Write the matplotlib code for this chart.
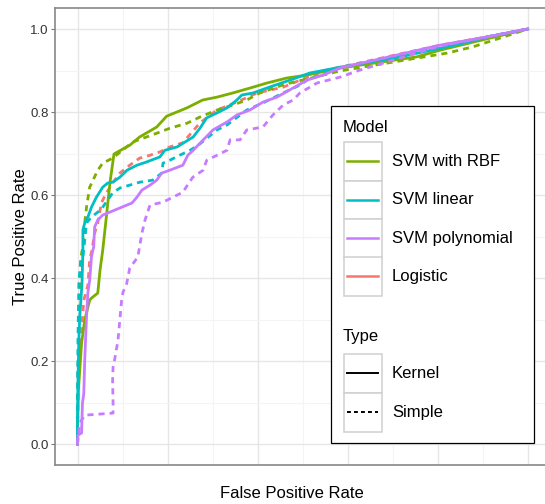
import matplotlib
matplotlib.use("Agg")
import matplotlib.pyplot as plt
from matplotlib.patches import Rectangle

plt.rcParams['font.family'] = ['Liberation Sans', 'DejaVu Sans']

# ROC curves (FPR, TPR)
rbf_kernel_fpr = [0, 0, 0.002, 0.009, 0.016, 0.027, 0.031, 0.045, 0.050, 0.056, 0.064, 0.072, 0.081,
                  0.109, 0.116, 0.138, 0.176, 0.198, 0.243, 0.278, 0.310, 0.345, 0.390, 0.421, 0.465,
                  0.510, 0.583, 0.754, 0.805, 1.0]
rbf_kernel_tpr = [0, 0.027, 0.130, 0.243, 0.299, 0.347, 0.352, 0.364, 0.419, 0.467, 0.547, 0.629, 0.699,
                  0.716, 0.720, 0.740, 0.764, 0.790, 0.810, 0.829, 0.836, 0.846, 0.860, 0.870, 0.882,
                  0.889, 0.906, 0.933, 0.949, 1.0]

rbf_simple_fpr = [0, 0.001, 0.003, 0.005, 0.009, 0.012, 0.016, 0.020, 0.027, 0.045, 0.056, 0.078, 0.094,
                  0.123, 0.176, 0.205, 0.243, 0.272, 0.310, 0.345, 0.376, 0.405, 0.450, 0.479, 0.512,
                  0.583, 0.754, 0.821, 0.878, 0.938, 1.0]
rbf_simple_tpr = [0, 0.106, 0.275, 0.395, 0.460, 0.475, 0.533, 0.571, 0.619, 0.660, 0.677, 0.689, 0.703,
                  0.728, 0.749, 0.761, 0.773, 0.788, 0.805, 0.817, 0.829, 0.846, 0.863, 0.872, 0.880,
                  0.899, 0.930, 0.942, 0.957, 0.978, 1.0]

lin_kernel_fpr = [0, 0, 0.001, 0.003, 0.005, 0.010, 0.012, 0.012, 0.016, 0.023, 0.031, 0.042, 0.056,
                  0.067, 0.078, 0.094, 0.110, 0.132, 0.154, 0.183, 0.194, 0.221, 0.257, 0.272, 0.287,
                  0.310, 0.332, 0.354, 0.365, 0.390, 0.421, 0.472, 0.516, 0.583, 0.717, 0.850, 0.910, 1.0]
lin_kernel_tpr = [0, 0.058, 0.154, 0.251, 0.306, 0.388, 0.467, 0.516, 0.533, 0.547, 0.571, 0.595, 0.619,
                  0.629, 0.631, 0.643, 0.660, 0.672, 0.680, 0.692, 0.708, 0.716, 0.740, 0.761, 0.786,
                  0.798, 0.810, 0.829, 0.841, 0.846, 0.858, 0.877, 0.894, 0.908, 0.933, 0.964, 0.981, 1.0]

lin_simple_fpr = [0, 0, 0.001, 0.003, 0.007, 0.012, 0.020, 0.031, 0.045, 0.056, 0.067, 0.078, 0.094,
                  0.116, 0.138, 0.167, 0.187, 0.190, 0.205, 0.227, 0.250, 0.268, 0.310, 0.332, 0.376,
                  0.412, 0.457, 0.494, 0.510, 0.554, 0.583, 0.805, 0.910, 1.0]
lin_simple_tpr = [0, 0.106, 0.251, 0.388, 0.443, 0.451, 0.533, 0.547, 0.559, 0.571, 0.588, 0.605, 0.617,
                  0.624, 0.631, 0.636, 0.653, 0.677, 0.684, 0.696, 0.708, 0.720, 0.757, 0.769, 0.805,
                  0.822, 0.846, 0.865, 0.877, 0.894, 0.906, 0.959, 0.981, 1.0]

poly_kernel_fpr = [0, 0.001, 0.009, 0.011, 0.014, 0.016, 0.020, 0.023, 0.027, 0.031, 0.034, 0.036, 0.038,
                   0.045, 0.056, 0.072, 0.094, 0.121, 0.132, 0.143, 0.161, 0.176, 0.187, 0.205, 0.234,
                   0.245, 0.257, 0.272, 0.301, 0.332, 0.354, 0.383, 0.412, 0.443, 0.479, 0.510, 0.545,
                   0.583, 0.805, 0.910, 1.0]
poly_kernel_tpr = [0, 0.022, 0.027, 0.099, 0.123, 0.202, 0.306, 0.364, 0.395, 0.451, 0.467, 0.475, 0.523,
                   0.540, 0.552, 0.559, 0.569, 0.581, 0.595, 0.612, 0.624, 0.636, 0.653, 0.660, 0.672,
                   0.696, 0.708, 0.725, 0.757, 0.776, 0.793, 0.805, 0.824, 0.836, 0.858, 0.877, 0.889,
                   0.906, 0.961, 0.981, 1.0]

poly_simple_fpr = [0, 0.005, 0.016, 0.079, 0.079, 0.078, 0.079, 0.083, 0.090, 0.094, 0.098, 0.101, 0.109,
                   0.116, 0.134, 0.143, 0.150, 0.161, 0.190, 0.212, 0.234, 0.256, 0.279, 0.287, 0.310,
                   0.332, 0.339, 0.361, 0.376, 0.412, 0.434, 0.457, 0.479, 0.494, 0.532, 0.583, 0.627,
                   0.805, 1.0]
poly_simple_tpr = [0, 0.051, 0.070, 0.075, 0.099, 0.154, 0.186, 0.207, 0.251, 0.299, 0.347, 0.366, 0.386,
                   0.424, 0.451, 0.508, 0.540, 0.576, 0.583, 0.595, 0.607, 0.643, 0.660, 0.684, 0.696,
                   0.708, 0.733, 0.733, 0.757, 0.764, 0.793, 0.817, 0.829, 0.846, 0.870, 0.884, 0.901,
                   0.959, 1.0]

logit_simple_fpr = [0, 0, 0.001, 0.001, 0.005, 0.009, 0.014, 0.023, 0.027, 0.032, 0.038, 0.045, 0.053,
                    0.064, 0.078, 0.094, 0.116, 0.138, 0.161, 0.183, 0.205, 0.234, 0.272, 0.310, 0.354,
                    0.399, 0.457, 0.510, 0.554, 0.583, 0.805, 0.910, 1.0]
logit_simple_tpr = [0, 0.082, 0.154, 0.186, 0.243, 0.275, 0.347, 0.383, 0.443, 0.467, 0.508, 0.533, 0.581,
                    0.605, 0.629, 0.653, 0.672, 0.689, 0.696, 0.704, 0.716, 0.726, 0.774, 0.805, 0.824,
                    0.846, 0.860, 0.884, 0.901, 0.908, 0.961, 0.981, 1.0]

models = ["SVM with RBF", "SVM linear", "SVM polynomial", "Logistic"]
model_colors = {"Logistic": "#F8766D", "SVM with RBF": "#7CAE00",
                "SVM linear": "#00BFC4", "SVM polynomial": "#C77CFF"}
types = ["Kernel", "Simple"]
yticks = [0.0, 0.2, 0.4, 0.6, 0.8, 1.0]

curves = [
    ("Logistic", "Simple", logit_simple_fpr, logit_simple_tpr),
    ("SVM with RBF", "Kernel", rbf_kernel_fpr, rbf_kernel_tpr),
    ("SVM with RBF", "Simple", rbf_simple_fpr, rbf_simple_tpr),
    ("SVM linear", "Kernel", lin_kernel_fpr, lin_kernel_tpr),
    ("SVM linear", "Simple", lin_simple_fpr, lin_simple_tpr),
    ("SVM polynomial", "Kernel", poly_kernel_fpr, poly_kernel_tpr),
    ("SVM polynomial", "Simple", poly_simple_fpr, poly_simple_tpr),
]

fig = plt.figure(figsize=(5.45, 5.04), dpi=100)
W, H = 545, 504
# panel runs a little past the right edge, as in the cropped original
ax = fig.add_axes([55 / W, 1 - 465 / H, (550.2 - 55) / W, (465 - 8.25) / H])

dash = (0, (2.2, 1.8))
for model, kind, fpr, tpr in curves:
    ls = '-' if kind == "Kernel" else dash
    ax.plot(fpr, tpr, color=model_colors[model], lw=2.0, linestyle=ls,
            solid_joinstyle='round', dash_capstyle='butt')

ax.set_xlim(-0.05, 1.05)
ax.set_ylim(-0.05, 1.05)
ax.set_xticks([0, 0.2, 0.4, 0.6, 0.8, 1.0])
ax.set_xticks([0.1, 0.3, 0.5, 0.7, 0.9], minor=True)
ax.set_yticks(yticks)
ax.set_yticks([0.1, 0.3, 0.5, 0.7, 0.9], minor=True)
ax.set_yticklabels(["%.1f" % v for v in yticks], fontsize=9.5, color='#333333')
ax.set_xticklabels([])
ax.tick_params(axis='x', which='both', length=0)
ax.tick_params(axis='y', which='major', length=3, color='#777777', pad=1.5)
ax.tick_params(axis='y', which='minor', length=0)
ax.grid(True, which='major', color='#E6E6E6', lw=1.0)
ax.grid(True, which='minor', color='#F4F4F4', lw=0.8)
ax.set_axisbelow(True)
for side in ['left', 'bottom', 'top']:
    ax.spines[side].set_color('#888888')
    ax.spines[side].set_linewidth(1.2)
ax.spines['right'].set_visible(False)

fig.text(21 / W, 1 - 236.5 / H, "True Positive Rate", rotation=90, ha='center', va='center', fontsize=12)
fig.text(292 / W, 1 - 493 / H, "False Positive Rate", ha='center', va='center', fontsize=12)

# legend drawn in pixel space
lg = fig.add_axes([0, 0, 1, 1], zorder=5)
lg.set_xlim(0, W)
lg.set_ylim(H, 0)
lg.axis('off')
lg.add_patch(Rectangle((331, 106), 203, 337, fc='white', ec='black', lw=0.9))
lg.text(343, 127, "Model", fontsize=12, va='center', ha='left')
row_y = [161, 199.5, 238, 276]
for m, yc in zip(models, row_y):
    lg.add_patch(Rectangle((343.5, yc - 19), 38.5, 38.5, fc='white', ec='#D0D0D0', lw=1.1))
    lg.plot([347, 378], [yc, yc], color=model_colors[m], lw=1.8)
    lg.text(392, yc, m, fontsize=12, va='center', ha='left')
lg.text(343, 337, "Type", fontsize=12, va='center', ha='left')
type_y = [373, 412]
for t, yc in zip(types, type_y):
    lg.add_patch(Rectangle((343.5, yc - 19), 38.5, 38.5, fc='white', ec='#D0D0D0', lw=1.1))
    lg.plot([347, 378], [yc, yc], color='black', lw=1.4,
            linestyle='-' if t == "Kernel" else (0, (2.0, 1.6)))
    lg.text(392, yc, t, fontsize=12, va='center', ha='left')

fig.savefig("out.png", dpi=100)
